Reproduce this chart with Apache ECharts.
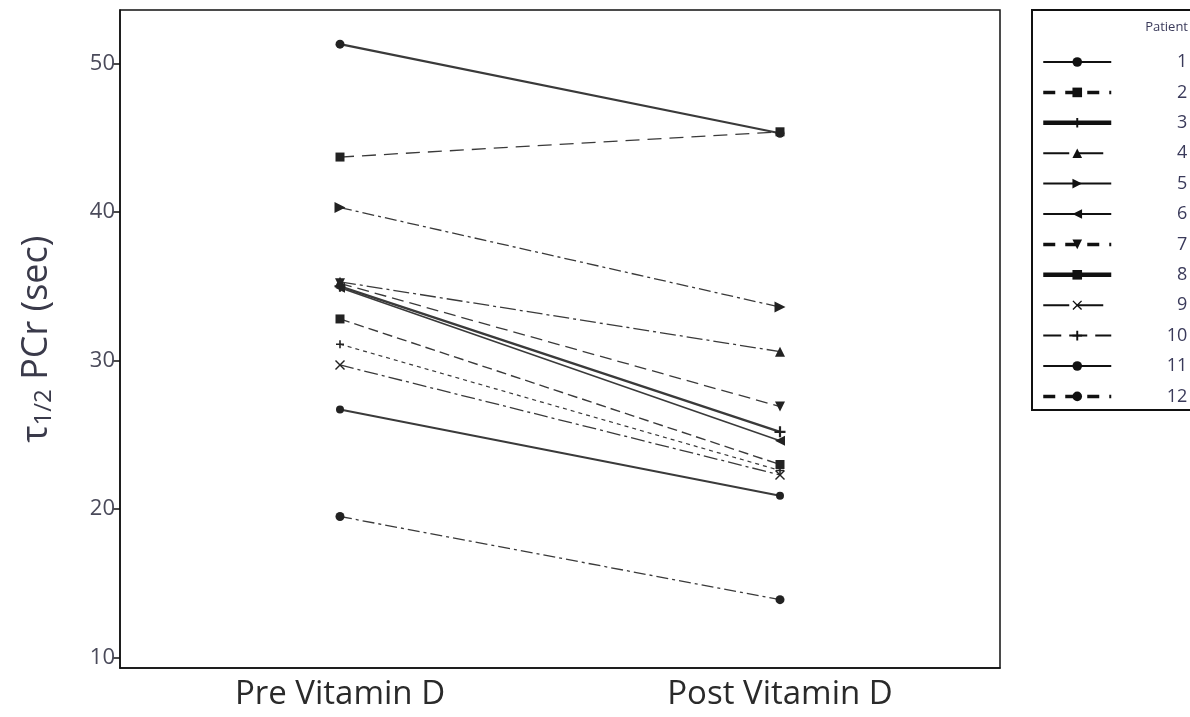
<!DOCTYPE html>
<html>
<head>
<meta charset="utf-8">
<script src="https://cdn.jsdelivr.net/npm/echarts@6/dist/echarts.min.js"></script>
<style>
  html, body { margin: 0; padding: 0; background: #fff; }
  #chart { width: 1190px; height: 717px; }
</style>
</head>
<body>
<div id="chart"></div>
<script>
// Time points on the x axis
const categories = ['Pre Vitamin D', 'Post Vitamin D'];
// Patient identifiers
const patients = ['1', '2', '3', '4', '5', '6', '7', '8', '9', '10', '11', '12'];
// PCr recovery half-time (sec) before and after vitamin D, per patient
const preValues  = [51.3, 43.7, 35.0, 35.3, 40.3, 34.9, 35.2, 32.8, 29.7, 31.1, 26.7, 19.5];
const postValues = [45.3, 45.4, 25.2, 30.6, 33.6, 24.6, 26.9, 23.0, 22.3, 22.6, 20.9, 13.9];
// Y axis tick labels
const yTicks = [10, 20, 30, 40, 50];

const triRight = 'path://M0,0 L10,5 L0,10 Z';
const triLeft = 'path://M10,0 L0,5 L10,10 Z';
const triDown = 'path://M0,0 L10,0 L5,10 Z';
const plus = 'path://M4,0 H6 V4 H10 V6 H6 V10 H4 V6 H0 V4 H4 Z';
const cross = 'path://M1,0 L5,4 L9,0 L10,1 L6,5 L10,9 L9,10 L5,6 L1,10 L0,9 L4,5 L0,1 Z';

// Per-patient drawing style: plot line (dash, w), legend line (lt, lw), marker (sym, ss)
const styles = [
  { dash: 'solid',        w: 2.2, lw: 2,   lt: 'solid',  sym: 'circle',   ss: 9 },
  { dash: [14, 8],        w: 1.3, lw: 3.5, lt: [12, 10], sym: 'rect',     ss: 9 },
  { dash: 'solid',        w: 2.4, lw: 4.5, lt: 'solid',  sym: plus,       ss: 11 },
  { dash: [16, 4, 3, 4],  w: 1.3, lw: 2,   lt: [26, 8],  sym: 'triangle', ss: 10 },
  { dash: [12, 4, 3, 4],  w: 1.3, lw: 2,   lt: 'solid',  sym: triRight,   ss: 11 },
  { dash: 'solid',        w: 1.6, lw: 2,   lt: 'solid',  sym: triLeft,    ss: 10 },
  { dash: [12, 6],        w: 1.3, lw: 3.5, lt: [12, 10], sym: triDown,    ss: 10 },
  { dash: [10, 5],        w: 1.4, lw: 4.5, lt: 'solid',  sym: 'rect',     ss: 9 },
  { dash: [14, 4, 3, 4],  w: 1.3, lw: 2,   lt: [26, 8],  sym: cross,      ss: 10 },
  { dash: [4, 4],         w: 1.2, lw: 2,   lt: [18, 8],  sym: plus,       ss: 8 },
  { dash: 'solid',        w: 2.0, lw: 2,   lt: 'solid',  sym: 'circle',   ss: 8 },
  { dash: [12, 4, 3, 4],  w: 1.3, lw: 3.5, lt: [12, 10], sym: 'circle',   ss: 9 }
];

const series = patients.map((p, i) => ({
  name: p,
  type: 'line',
  data: [preValues[i], postValues[i]],
  symbol: styles[i].sym,
  symbolSize: styles[i].ss,
  color: '#222',
  itemStyle: { color: '#222' },
  lineStyle: { color: '#3a3a3a', width: styles[i].w, type: styles[i].dash },
  z: 3
}));

const legendData = patients.map((p, i) => ({
  name: p,
  itemStyle: { color: '#111' },
  lineStyle: { color: '#111', width: styles[i].lw, type: styles[i].lt }
}));

const chart = echarts.init(document.getElementById('chart'));
chart.setOption({
  backgroundColor: '#fff',
  animation: false,
  grid: {
    left: 120, right: 190, top: 10, bottom: 49,
    show: true, borderColor: '#111', borderWidth: 1.5
  },
  xAxis: {
    type: 'category',
    data: categories,
    boundaryGap: true,
    axisLine: { lineStyle: { color: '#111', width: 1.5 } },
    axisTick: { alignWithLabel: true, length: 6, lineStyle: { color: '#111', width: 1.5 } },
    axisLabel: { color: '#2a2a2a', fontSize: 33, fontFamily: 'Open Sans', margin: 10 }
  },
  yAxis: {
    type: 'value',
    min: 9.3,
    max: 53.6,
    splitLine: { show: false },
    axisLine: { show: true, lineStyle: { color: '#111', width: 1.5 } },
    axisTick: { show: true, length: 7, customValues: yTicks, lineStyle: { color: '#111', width: 1.5 } },
    axisLabel: { color: '#4a4a5a', fontSize: 22, fontFamily: 'Open Sans', margin: 5, customValues: yTicks },
    name: '{t|τ}{s|1/2}{t| PCr (sec)}',
    nameLocation: 'middle',
    nameRotate: 90,
    nameGap: 64,
    nameTextStyle: {
      rich: {
        t: { fontSize: 36, color: '#3a3a4a', fontFamily: 'Open Sans' },
        s: { fontSize: 24, color: '#3a3a4a', fontFamily: 'Open Sans', verticalAlign: 'bottom', padding: [14, 0, 0, 0] }
      }
    }
  },
  legend: {
    orient: 'vertical',
    left: 1036,
    top: 48,
    itemWidth: 68,
    itemHeight: 12,
    itemGap: 12.4,
    data: legendData,
    formatter: name => '{n|' + name + '}',
    textStyle: {
      rich: { n: { width: 71, height: 18, lineHeight: 18, align: 'right', fontSize: 18, color: '#3a3a5a', fontFamily: 'Open Sans' } }
    }
  },
  graphic: [
    {
      type: 'rect',
      shape: { x: 1032, y: 10, width: 170, height: 400 },
      style: { fill: 'none', stroke: '#111', lineWidth: 2 },
      z: 0
    },
    {
      type: 'text',
      x: 1188, y: 21,
      style: { text: 'Patient', fill: '#3a3a5a', font: '13px "Open Sans"', textAlign: 'right', textBaseline: 'top' }
    }
  ],
  series: series
});
</script>
</body>
</html>
